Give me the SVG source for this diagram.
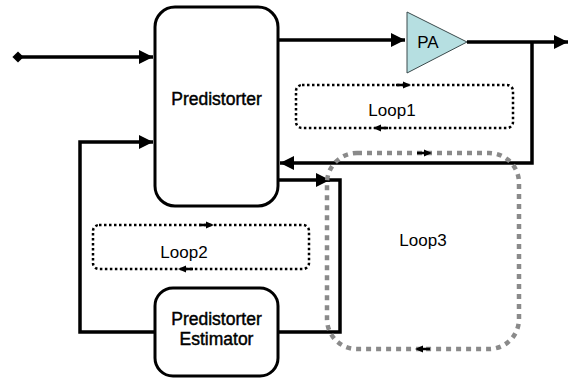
<svg xmlns="http://www.w3.org/2000/svg" width="574" height="379" viewBox="0 0 574 379">
  <style>
    .box { fill: #ffffff; stroke: #000000; stroke-width: 3; }
    .wire { fill: none; stroke: #000000; stroke-width: 3.5; stroke-linejoin: miter; }
    .loop { fill: none; stroke: #000000; stroke-width: 2.5; stroke-dasharray: 2.5 2.5; }
    .loop3 { fill: none; stroke: #8a8a8a; stroke-width: 4.5; stroke-dasharray: 5 5; }
    .tick { fill: none; stroke: #000000; stroke-width: 2.5; }
    .lbl { font-family: "Liberation Sans", Arial, sans-serif; font-size: 17px; fill: #000000; text-anchor: middle; }
    .blk { font-family: "Liberation Sans", Arial, sans-serif; font-size: 17.5px; fill: #000000; stroke: #000000; stroke-width: 0.45; text-anchor: middle; }
  </style>
  <defs>
    <marker id="arr" viewBox="0 0 10 10" refX="10" refY="5" markerWidth="4" markerHeight="4" orient="auto" markerUnits="strokeWidth">
      <path d="M0,0 L10,5 L0,10 z" fill="#000000"/>
    </marker>
    <marker id="dia" viewBox="0 0 10 10" refX="5" refY="5" markerWidth="3.2" markerHeight="3.2" orient="auto" markerUnits="strokeWidth">
      <path d="M0,5 L5,0 L10,5 L5,10 z" fill="#000000"/>
    </marker>
    <!-- small direction arrow drawn on loop outlines, pointing right -->
    <g id="dir">
      <path class="tick" d="M-8,0 L0,0"/>
      <path d="M-1,-3.5 L7,0 L-1,3.5 z" fill="#000000"/>
    </g>
  </defs>

  <!-- signal wires -->
  <g id="connectors">
    <path class="wire" d="M18,57 L153,57" marker-start="url(#dia)" marker-end="url(#arr)"/>
    <path class="wire" d="M279,40 L405,40" marker-end="url(#arr)"/>
    <path class="wire" d="M467,42 L568,42" marker-end="url(#arr)"/>
    <path class="wire" d="M532,42 L532,163 L280,163" marker-end="url(#arr)"/>
    <path class="wire" d="M279,180 L330,180"  marker-end="url(#arr)"/>
    <path class="wire" d="M326,180 L340,180 L340,332 L278,332"/>
    <path class="wire" d="M155,332 L80,332 L80,142 L153,142" marker-end="url(#arr)"/>
  </g>

  <!-- blocks -->
  <g id="predistorter">
    <rect class="box" x="155" y="7" width="123" height="199" rx="20"/>
    <text class="blk" x="216.5" y="105">Predistorter</text>
  </g>
  <g id="estimator">
    <rect class="box" x="155" y="288" width="123" height="88" rx="18"/>
    <text class="blk" x="216.5" y="325">Predistorter</text>
    <text class="blk" x="216.5" y="345">Estimator</text>
  </g>
  <g id="pa">
    <path d="M407,12 L467,42 L407,73 z" fill="#b6dfe1" stroke="#3a4a4c" stroke-width="1"/>
    <text class="lbl" x="428" y="48">PA</text>
  </g>

  <!-- adaptation loops -->
  <g id="loop1">
    <rect class="loop" x="296" y="85" width="217" height="43" rx="6"/>
    <use href="#dir" transform="translate(404,85)"/>
    <use href="#dir" transform="translate(380,128) rotate(180)"/>
    <text class="lbl" x="392" y="116">Loop1</text>
  </g>
  <g id="loop2">
    <rect class="loop" x="93" y="225" width="216" height="44" rx="6"/>
    <use href="#dir" transform="translate(207,225)"/>
    <use href="#dir" transform="translate(185,269) rotate(180)"/>
    <text class="lbl" x="184" y="258">Loop2</text>
  </g>
  <g id="loop3">
    <rect class="loop3" x="327" y="153" width="192" height="196" rx="30"/>
    <use href="#dir" transform="translate(425,153)"/>
    <use href="#dir" transform="translate(422,349) rotate(180)"/>
    <text class="lbl" x="423" y="246">Loop3</text>
  </g>
</svg>
